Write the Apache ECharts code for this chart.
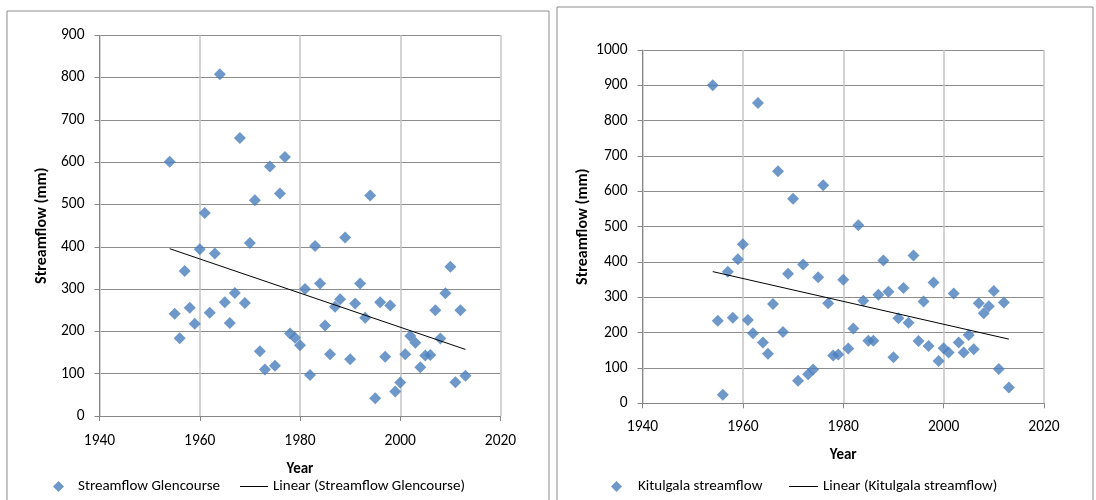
<!DOCTYPE html>
<html><head><meta charset="utf-8">
<script src="https://cdn.jsdelivr.net/npm/echarts@6/dist/echarts.min.js"></script>
<style>html,body{margin:0;padding:0;background:#fff}#c{width:1096px;height:500px}</style>
</head><body><div id="c"></div>
<script>
const years = [1954,1955,1956,1957,1958,1959,1960,1961,1962,1963,1964,1965,1966,1967,1968,1969,1970,1971,1972,1973,1974,1975,1976,1977,1978,1979,1980,1981,1982,1983,1984,1985,1986,1987,1988,1989,1990,1991,1992,1993,1994,1995,1996,1997,1998,1999,2000,2001,2002,2003,2004,2005,2006,2007,2008,2009,2010,2011,2012,2013];
const glencourse = [601,242,184,343,256,218,394,480,244,384,808,269,220,291,657,267,409,510,153,110,590,119,526,612,195,185,167,300,97,402,313,214,146,258,276,422,134,266,313,232,521,42,269,140,261,58,79,146,189,173,115,143,144,250,183,290,353,80,250,95];
const kitulgala = [900,234,24,372,242,408,450,236,198,850,172,140,281,657,202,367,579,64,393,82,96,357,617,283,135,138,350,155,212,504,290,177,177,307,404,316,130,241,326,228,418,176,288,162,342,120,156,144,311,172,144,193,153,283,255,275,318,97,285,45];
const xTicks = [1940,1960,1980,2000,2020];
const leftYMax = 900;
const rightYMax = 1000;
const seriesNames = ['Streamflow Glencourse','Linear (Streamflow Glencourse)','Kitulgala streamflow','Linear (Kitulgala streamflow)'];

function trend(xs, ys){
  const n = xs.length;
  let sx=0, sy=0, sxx=0, sxy=0;
  for(let i=0;i<n;i++){sx+=xs[i];sy+=ys[i];sxx+=xs[i]*xs[i];sxy+=xs[i]*ys[i];}
  const b=(n*sxy-sx*sy)/(n*sxx-sx*sx), a=(sy-b*sx)/n;
  const x0=xs[0], x1=xs[n-1];
  return [[x0,a+b*x0],[x1,a+b*x1]];
}

const FONT = 'Carlito, Lato, sans-serif';
const axisGray = '#868686';
const blue = '#4a7ebb';
const plain = v => String(v);

function xAxis(gridIndex, margin, nameGap){
  return {
    type:'value', gridIndex, min:xTicks[0], max:xTicks[xTicks.length-1], interval:20,
    name:'Year', nameLocation:'middle', nameGap,
    nameTextStyle:{color:'#000', fontSize:15, fontWeight:'bold', fontFamily:FONT},
    axisLine:{show:true, onZero:false, lineStyle:{color:axisGray, width:1}},
    axisTick:{show:true, inside:false, length:5, lineStyle:{color:axisGray}},
    axisLabel:{color:'#000', fontSize:15.5, fontFamily:FONT, margin, formatter:plain},
    splitLine:{show:true, lineStyle:{color:'#c4c4c4', width:1.5}}
  };
}
function yAxis(gridIndex, max, nameGap){
  return {
    type:'value', gridIndex, min:0, max, interval:100,
    name:'Streamflow (mm)', nameLocation:'middle', nameGap,
    nameTextStyle:{color:'#000', fontSize:16, fontWeight:'bold', fontFamily:FONT},
    axisLine:{show:true, onZero:false, lineStyle:{color:axisGray, width:1}},
    axisTick:{show:true, inside:false, length:5, lineStyle:{color:axisGray}},
    axisLabel:{color:'#000', fontSize:15.5, fontFamily:FONT, margin:15, formatter:plain},
    splitLine:{show:true, lineStyle:{color:'#8c8c8c', width:1}}
  };
}
function scatterLegend(name, left, pad){
  return {data:[name], left, top:474, icon:'diamond', itemWidth:11, itemHeight:11,
    selectedMode:false, textStyle:{color:'#000', fontSize:15, fontFamily:FONT, padding:[0,0,0,pad]}};
}
function lineLegend(name, left, w){
  return {data:[name], left, top:474, icon:'rect', itemWidth:w, itemHeight:1,
    selectedMode:false, itemStyle:{color:'#000'}, textStyle:{color:'#000', fontSize:15, fontFamily:FONT}};
}

const chart = echarts.init(document.getElementById('c'), null, {renderer:'canvas'});
chart.setOption({
  backgroundColor:'#fff',
  animation:false,
  graphic:[
    {type:'rect', shape:{x:7, y:11, width:542, height:520}, style:{fill:'none', stroke:'#8c8c8c', lineWidth:1}, silent:true},
    {type:'rect', shape:{x:557, y:7, width:536, height:520}, style:{fill:'none', stroke:'#8c8c8c', lineWidth:1}, silent:true}
  ],
  grid:[
    {left:99.5, top:35.3, width:401, height:380.7},
    {left:642.5, top:50, width:401.5, height:353.3}
  ],
  xAxis:[xAxis(0,17,46), xAxis(1,16,44)],
  yAxis:[yAxis(0,leftYMax,50), yAxis(1,rightYMax,52)],
  legend:[
    scatterLegend(seriesNames[0], 48, 9),
    lineLegend(seriesNames[1], 235, 28),
    scatterLegend(seriesNames[2], 606, 11),
    lineLegend(seriesNames[3], 784, 29)
  ],
  series:[
    {name:seriesNames[0], type:'scatter', xAxisIndex:0, yAxisIndex:0, symbol:'diamond', symbolSize:12,
      itemStyle:{color:blue}, data:years.map((y,i)=>[y,glencourse[i]])},
    {name:seriesNames[1], type:'line', xAxisIndex:0, yAxisIndex:0, symbol:'none',
      lineStyle:{color:'#000', width:1}, itemStyle:{color:'#000'}, data:trend(years, glencourse), z:3},
    {name:seriesNames[2], type:'scatter', xAxisIndex:1, yAxisIndex:1, symbol:'diamond', symbolSize:12,
      itemStyle:{color:blue}, data:years.map((y,i)=>[y,kitulgala[i]])},
    {name:seriesNames[3], type:'line', xAxisIndex:1, yAxisIndex:1, symbol:'none',
      lineStyle:{color:'#000', width:1}, itemStyle:{color:'#000'}, data:trend(years, kitulgala), z:3}
  ]
});
</script>
</body></html>
